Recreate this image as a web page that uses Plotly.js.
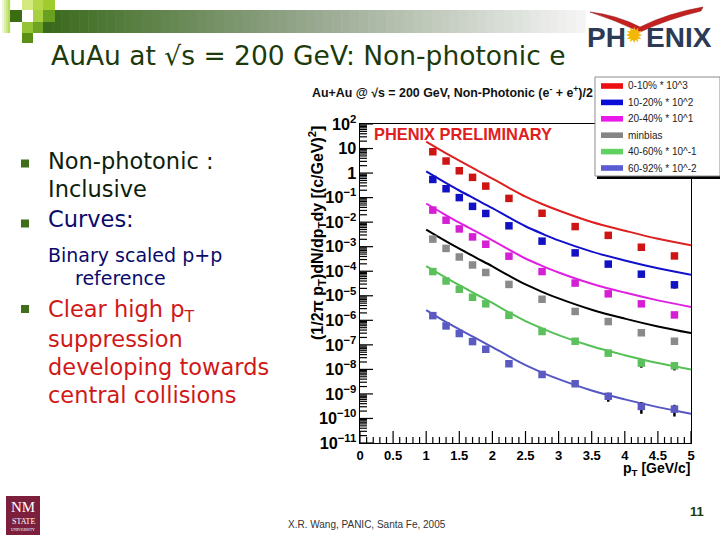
<!DOCTYPE html>
<html>
<head>
<meta charset="utf-8">
<script src="https://cdn.plot.ly/plotly-3.0.1.min.js"></script>
<style>html,body{margin:0;padding:0;background:#fff}#chart{width:720px;height:540px}</style>
</head>
<body>
<div id="chart"></div>
<script>
// ---------------- data ----------------
const seriesNames = ["0-10% * 10^3", "10-20% * 10^2", "20-40% * 10^1", "minbias", "40-60% * 10^-1", "60-92% * 10^-2"];
const ptPoints = [1.1, 1.3, 1.5, 1.7, 1.9, 2.25, 2.75, 3.25, 3.75, 4.25, 4.75];
const y0010 = [7.4, 3.1, 1.24, 0.67, 0.295, 0.093, 0.023, 0.0066, 0.0029, 0.00095, 0.00042];
const y1020 = [0.55, 0.23, 0.10, 0.044, 0.0226, 0.0071, 0.00168, 0.00056, 0.000195, 7.6e-5, 2.8e-5];
const y2040 = [0.031, 0.012, 0.0053, 0.0025, 0.00126, 0.00041, 9.7e-5, 3.3e-5, 1.2e-5, 4.7e-6, 1.66e-6];
const yMinb = [0.00204, 8.5e-4, 3.8e-4, 1.8e-4, 8.9e-5, 2.9e-5, 7.2e-6, 2.3e-6, 8.9e-7, 3.1e-7, 1.4e-7];
const y4060 = [9.7e-5, 4.0e-5, 1.85e-5, 8.7e-6, 4.7e-6, 1.6e-6, 3.5e-7, 1.4e-7, 4.6e-8, 1.8e-8, 1.4e-8];
const y6092 = [1.55e-6, 5.9e-7, 2.9e-7, 1.36e-7, 6.6e-8, 1.7e-8, 6.2e-9, 2.6e-9, 8.0e-10, 3.1e-10, 2.4e-10];
// relative errors
const e0010 = [0.05, 0.05, 0.05, 0.05, 0.05, 0.05, 0.06, 0.08, 0.10, 0.15, 0.20];
const e1020 = [0.05, 0.05, 0.05, 0.05, 0.05, 0.06, 0.07, 0.08, 0.10, 0.20, 0.30];
const e2040 = [0.05, 0.05, 0.05, 0.05, 0.05, 0.05, 0.06, 0.08, 0.10, 0.15, 0.25];
const eMinb = [0.05, 0.05, 0.05, 0.05, 0.05, 0.05, 0.06, 0.07, 0.08, 0.10, 0.10];
const e4060 = [0.05, 0.05, 0.05, 0.05, 0.05, 0.06, 0.08, 0.10, 0.20, 0.35, 0.35];
const e6092 = [0.05, 0.05, 0.05, 0.05, 0.08, 0.15, 0.12, 0.15, 0.40, 0.50, 0.50];
// binary scaled p+p reference curves
const ptCurve = [1.0, 1.25, 1.5, 1.75, 2.0, 2.25, 2.5, 2.75, 3.0, 3.5, 4.0, 4.5, 5.0];
const c0010 = [19, 7.6, 3.2, 1.38, 0.60, 0.25, 0.11, 0.055, 0.030, 0.0102, 0.0045, 0.0021, 0.00115];
const c1020 = [1.17, 0.47, 0.195, 0.085, 0.037, 0.0155, 0.0068, 0.0034, 0.0018, 6.3e-4, 2.75e-4, 1.32e-4, 7.1e-5];
const c2040 = [0.0575, 0.0229, 0.0095, 0.0042, 0.0018, 7.6e-4, 3.3e-4, 1.66e-4, 8.9e-5, 3.1e-5, 1.35e-5, 6.5e-6, 3.5e-6];
const cMinb = [5.0e-3, 2.0e-3, 8.3e-4, 3.6e-4, 1.58e-4, 6.6e-5, 2.9e-5, 1.45e-5, 7.8e-6, 2.7e-6, 1.17e-6, 5.6e-7, 3.0e-7];
const c4060 = [1.62e-4, 6.5e-5, 2.7e-5, 1.17e-5, 5.1e-6, 2.1e-6, 9.3e-7, 4.7e-7, 2.5e-7, 8.7e-8, 3.8e-8, 1.82e-8, 9.8e-9];
const c6092 = [2.6e-6, 1.02e-6, 4.3e-7, 1.86e-7, 8.1e-8, 3.4e-8, 1.48e-8, 7.4e-9, 4.0e-9, 1.38e-9, 6.0e-10, 2.9e-10, 1.55e-10];
const xTickVals = [0, 0.5, 1, 1.5, 2, 2.5, 3, 3.5, 4, 4.5, 5];
const yDecades = [-11, 2];

// ---------------- styles ----------------
const W = 720, H = 540;
const markerColors = ["#cf1414", "#1212c4", "#d41fd4", "#8a8a8a", "#5cc05c", "#5a5ac2"];
const curveColors = ["#de2020", "#1010cc", "#e020e0", "#000000", "#55c055", "#5555c4"];
const legendColors = ["#ec1010", "#0c0cd8", "#ea18ea", "#858585", "#60d060", "#5a5ad2"];
const pts = [y0010, y1020, y2040, yMinb, y4060, y6092];
const errs = [e0010, e1020, e2040, eMinb, e4060, e6092];
const curves = [c0010, c1020, c2040, cMinb, c4060, c6092];

const px = x => x / W;
const py = y => 1 - y / H;
const CH = "Liberation Sans, Arial, sans-serif";
const SL = "DejaVu Sans, Verdana, sans-serif";
const xDom = [360 / W, 691 / W], yDom = [(H - 443) / H, (H - 124) / H];
const xRange = [xTickVals[0], xTickVals[xTickVals.length - 1]];

const traces = [];
curves.forEach((c, i) => {
  traces.push({x: ptCurve, y: c, mode: "lines", type: "scatter", line: {color: curveColors[i], width: 2, shape: "spline"}, showlegend: false, hoverinfo: "skip"});
});
pts.forEach((p, i) => {
  traces.push({
    x: ptPoints, y: p, mode: "markers", type: "scatter", name: seriesNames[i], showlegend: false,
    marker: {symbol: "square", size: 7.5, color: markerColors[i], line: {width: 0}},
    error_y: {type: "data", array: p.map((v, k) => v * errs[i][k]), visible: true, color: "#000", thickness: 2.5, width: 0}
  });
});

const shapes = [];
const annotations = [];
function rect(x0, y0, x1, y1, fill, lineColor, lw) {
  shapes.push({type: "rect", xref: "paper", yref: "paper", x0: px(x0), x1: px(x1), y0: py(y1), y1: py(y0),
    fillcolor: fill, line: {color: lineColor || fill, width: lw === undefined ? 0 : lw}, layer: "above"});
}
function text(t, x, y, size, color, family, opt) {
  annotations.push(Object.assign({text: t, x: px(x), y: py(y), xref: "paper", yref: "paper", showarrow: false,
    xanchor: "left", yanchor: "middle", font: {size: size, color: color, family: family}}, opt || {}));
}
function hexLerp(a, b, t) {
  const pa = [1, 3, 5].map(k => parseInt(a.substr(k, 2), 16));
  const pb = [1, 3, 5].map(k => parseInt(b.substr(k, 2), 16));
  return "rgb(" + pa.map((v, k) => Math.round(v + (pb[k] - v) * t)).join(",") + ")";
}

// ----- axis tick marks (ROOT style, inside), placed along the axis scales -----
const tickLine = {color: "#000", width: 1.2};
for (let v = 0; v <= 50; v++) {
  const xv = v / 10;
  const len = (v % 5 === 0) ? 12 : 6;
  shapes.push({type: "line", xref: "x", yref: "paper", x0: xv, x1: xv, y0: yDom[0], y1: yDom[0] + len / H, line: tickLine, layer: "above"});
}
const yFrac = v => yDom[0] + (Math.log10(v) - yDecades[0]) / (yDecades[1] - yDecades[0]) * (yDom[1] - yDom[0]);
for (let d = yDecades[0]; d <= yDecades[1]; d++) {
  for (let m = 1; m <= 9; m++) {
    if (d === yDecades[1] && m > 1) break;
    const f = yFrac(m * Math.pow(10, d));
    const len = m === 1 ? 13 : 7;
    shapes.push({type: "line", xref: "paper", yref: "paper", x0: xDom[0], x1: xDom[0] + len / W, y0: f, y1: f, line: tickLine, layer: "above"});
  }
}

// ----- slide decoration: top-left squares + gradient bar -----
const N = 60, gx0 = 43, gx1 = 585;
for (let k = 0; k < N; k++) {
  const t = k / (N - 1);
  const c = t < 0.5 ? hexLerp("#3a6a1c", "#98a890", t / 0.5) : hexLerp("#98a890", "#f4f4f4", (t - 0.5) / 0.5);
  rect(gx0 + (gx1 - gx0) * k / N, 10, gx0 + (gx1 - gx0) * (k + 1) / N + 0.6, 33, c);
}
for (let k = 0; k < 5; k++) rect(k * 2, 0, k * 2 + 2.2, 33, hexLerp("#ffffff", "#b8dc60", k / 4));
rect(10, 10, 22, 22, "#3c6c12");
rect(22, 0, 33, 10, "#d4ea80");
rect(33, 0, 43, 10, "#b4d84a");
rect(43, 0, 55, 10, "#a0cc30");
rect(33, 10, 43, 22, "#a8d040");
rect(43, 10, 55, 22, "#6aa020");
rect(22, 22, 33, 33, "#94c434");
rect(33, 22, 43, 33, "#6fa324");
rect(22, 33, 33, 43, "#5b9014");

// ----- PHENIX logo -----
const P = (x, y) => px(x).toFixed(4) + "," + py(y).toFixed(4);
shapes.push({type: "path", xref: "paper", yref: "paper", layer: "above",
  path: "M" + P(590, 12) + " Q" + P(617, 15) + " " + P(640, 27) + " Q" + P(668, 13) + " " + P(703, 7) +
        " L" + P(701, 11) + " Q" + P(668, 19) + " " + P(640, 32) + " Q" + P(615, 20) + " " + P(590, 12) + " Z",
  fillcolor: "#c42020", line: {color: "#8a1010", width: 0.5}});
text("<b>PH</b>", 585, 37, 28, "#2c3a56", CH);
text("✹", 634, 36, 22, "#f2b705", "DejaVu Sans", {xanchor: "center"});
text("<b>ENIX</b>", 644, 37, 28, "#2c3a56", CH);

// ----- slide title and bullets -----
text("AuAu at √s = 200 GeV: Non-photonic e", 49, 55, 26.5, "#1c3a0c", SL);
const bullet = (y) => rect(21, y - 4, 29, y + 4, "#3e6e1a");
bullet(163.5);
text("Non-photonic :", 46, 161, 22.5, "#0c1e0c", SL);
text("Inclusive", 46, 189, 22.5, "#0c1e0c", SL);
bullet(223.5);
text("Curves:", 46, 219, 22.5, "#0a0a6a", SL);
text("Binary scaled p+p", 46, 255, 19, "#0a0a6a", SL);
text("reference", 73, 278, 19, "#0a0a6a", SL);
bullet(309);
text("Clear high p<sub>T</sub>", 46, 311, 22.5, "#d01818", SL);
text("suppression", 46, 339, 22.5, "#d01818", SL);
text("developing towards", 46, 367, 22.5, "#d01818", SL);
text("central collisions", 46, 395, 22.5, "#d01818", SL);

// ----- footer -----
text("X.R. Wang, PANIC, Santa Fe, 2005", 367, 524, 10, "#333333", CH, {xanchor: "center"});
text("<b>11</b>", 697, 511, 13, "#1a3a0a", CH, {xanchor: "center"});
rect(6, 496, 40, 535, "#7c1f3c");
text("NM", 23, 507, 15, "#ffffff", "Liberation Serif, serif", {xanchor: "center"});
text("STATE", 23, 521, 8, "#ffffff", "Liberation Serif, serif", {xanchor: "center"});
text("UNIVERSITY", 23, 529, 4, "#ffffff", "Liberation Serif, serif", {xanchor: "center"});

// ----- chart texts -----
text("<b>Au+Au @ √s = 200 GeV, Non-Photonic (e<sup>-</sup> + e<sup>+</sup>)/2</b>", 310, 92, 12.4, "#111", CH);
text("<b>PHENIX PRELIMINARY</b>", 372, 134, 16.4, "#e02020", CH);
text("<b>(1/2π p<sub>T</sub>)dN/dp<sub>T</sub>dy [(c/GeV)<sup>2</sup>]</b>", 317, 233, 16, "#000", CH, {xanchor: "center", textangle: -90});
text("<b>p<sub>T</sub> [GeV/c]</b>", 692, 469, 14, "#000", CH, {xanchor: "right"});

// ----- legend (drawn manually) -----
rect(597, 79, 722, 179, "#000000");
rect(595, 77, 720, 176, "#ffffff", "#8c8c8c", 1);
seriesNames.forEach((n, i) => {
  const yc = 86 + i * 16.4;
  rect(601, yc - 2.8, 623, yc + 2.8, legendColors[i]);
  text(n, 626, yc, 10, "#222", CH);
});

const layout = {
  width: W, height: H, margin: {l: 0, r: 0, t: 0, b: 0}, paper_bgcolor: "#fff", plot_bgcolor: "#fff",
  showlegend: false,
  xaxis: {domain: xDom, range: xRange, tickmode: "array", tickvals: xTickVals, ticks: "",
    showline: true, linecolor: "#000", linewidth: 1, mirror: true, showgrid: false, zeroline: false,
    tickfont: {family: CH, size: 13, color: "#000", weight: "bold"}, automargin: false},
  yaxis: {domain: yDom, type: "log", range: yDecades, tickmode: "linear", tick0: 0, dtick: 1, exponentformat: "power",
    ticks: "", showline: true, linecolor: "#000", linewidth: 1,
    mirror: true, showgrid: false, zeroline: false, automargin: false,
    tickfont: {family: CH, size: 13, color: "#000", weight: "bold"}},
  shapes: shapes, annotations: annotations
};
Plotly.newPlot("chart", traces, layout, {displayModeBar: false, staticPlot: true});
</script>
</body>
</html>
